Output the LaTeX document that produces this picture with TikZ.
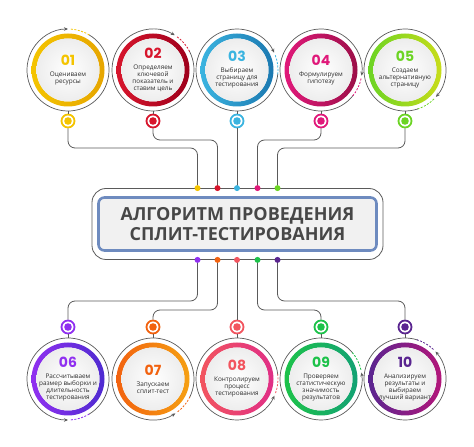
\documentclass[tikz,border=0pt]{standalone}
\usepackage{fontspec}
\setmainfont{Open Sans}
\newfontfamily\numfont{Poppins}
\usetikzlibrary{arrows.meta,positioning}

\definecolor{wirec}{HTML}{5A5A5A}
\definecolor{txtc}{HTML}{2E2E2E}
\definecolor{titlec}{HTML}{474747}
\definecolor{boxblue}{HTML}{6E8BBF}
\definecolor{boxfill}{HTML}{F1F1F1}
\definecolor{s1}{HTML}{F4C400}\definecolor{s1x}{HTML}{E6A500}
\definecolor{s2}{HTML}{D7152C}\definecolor{s2x}{HTML}{9E001C}
\definecolor{s3}{HTML}{3BB4E0}\definecolor{s3x}{HTML}{1B78B0}
\definecolor{s4}{HTML}{E0197A}\definecolor{s4x}{HTML}{9C0F48}
\definecolor{s5}{HTML}{6CD424}\definecolor{s5x}{HTML}{C8DC1A}
\definecolor{s6}{HTML}{9030F0}\definecolor{s6x}{HTML}{4E2BD0}
\definecolor{s7}{HTML}{F2620F}\definecolor{s7x}{HTML}{F5A013}
\definecolor{s8}{HTML}{F2555F}\definecolor{s8x}{HTML}{E02E86}
\definecolor{s9}{HTML}{1DC24A}\definecolor{s9x}{HTML}{13A274}
\definecolor{s10}{HTML}{5A2590}\definecolor{s10x}{HTML}{B3167A}

\begin{document}
\begin{tikzpicture}[x=1pt,y=1pt,
    wire/.style={draw=wirec, line width=0.8pt, rounded corners=7pt},
    outline/.style={draw=wirec, line width=0.7pt},
    halo/.style={circle, inner sep=0pt, minimum size=82pt},
    knob/.style={circle, fill=white, line width=1.8pt, inner sep=0pt, minimum size=13pt},
    stud/.style={circle, inner sep=0pt, minimum size=6pt},
    blurb/.style={align=center, text=txtc, font=\fontsize{6.4}{7}\selectfont},
    tip/.style={-{Stealth[length=4pt,width=3.5pt]}}]
  \useasboundingbox (0,0) rectangle (474,447);

  % title in the middle
  \node[draw=wirec, line width=0.8pt, rounded corners=14pt,
        minimum width=291pt, minimum height=71pt] (frame) at (237.5,223) {};
  \node[draw=boxblue, line width=2.6pt, fill=boxfill, rounded corners=6pt,
        minimum width=278pt, minimum height=53pt, align=center, text=titlec,
        font=\fontsize{18}{20}\selectfont\bfseries] (title) at (frame)
        {АЛГОРИТМ ПРОВЕДЕНИЯ\\СПЛИТ-ТЕСТИРОВАНИЯ};

  % upper row
  \foreach \i/\x/\a/\num/\txt in {
      1/68/90/01/{Оцениваем\\ресурсы},
      2/153/58/02/{Определяем\\ключевой\\показатель и\\ставим цель},
      3/237/25/03/{Выбираем\\страницу для\\тестирования},
      4/321/-8/04/{Формулируем\\гипотезу},
      5/405/-41/05/{Создаем\\альтернативную\\страницу}} {
    \node[halo] (c\i) at (\x,377) {};
    \shade[left color=s\i, right color=s\i x, even odd rule]
      (c\i) circle (36.5pt) (c\i) circle (31.5pt);
    \shade[inner color=white, outer color=gray!14] (c\i) circle (31.5pt);
    \draw[outline, tip] ([shift={({\a+330}:41pt)}]c\i.center)
      arc[start angle=\a+330, end angle=\a, radius=41pt];
    \draw[s\i, line width=0.8pt, dash pattern=on 2pt off 1.5pt]
      ([shift={({\a-4}:41pt)}]c\i.center) arc[start angle=\a-4, end angle=\a-32, radius=41pt];
    \node[blurb] at (c\i) {{\numfont\bfseries\fontsize{14}{14}\selectfont\textcolor{s\i}{\num}}\\[4pt]\txt};
    \node[knob, draw=s\i] (d\i) at (\x,326) {};
    \fill[s\i] (d\i) circle (3.8pt);
    \draw[outline] (c\i) -- (d\i);
  }

  % lower row
  \foreach \i/\x/\a/\num/\txt in {
      6/68/-90/06/{Рассчитываем\\размер выборки и\\длительность\\тестирования},
      7/153/-57/07/{Запускаем\\сплит-тест},
      8/237/-24/08/{Контролируем\\процесс\\тестирования},
      9/321/9/09/{Проверяем\\статистическую\\значимость\\результатов},
      10/405/42/10/{Анализируем\\результаты и\\выбираем\\лучший вариант}} {
    \node[halo] (c\i) at (\x,68) {};
    \shade[left color=s\i, right color=s\i x, even odd rule]
      (c\i) circle (36.5pt) (c\i) circle (31.5pt);
    \shade[inner color=white, outer color=gray!14] (c\i) circle (31.5pt);
    \draw[outline, tip] ([shift={({\a-330}:41pt)}]c\i.center)
      arc[start angle=\a-330, end angle=\a, radius=41pt];
    \draw[s\i, line width=0.8pt, dash pattern=on 2pt off 1.5pt]
      ([shift={({\a+4}:41pt)}]c\i.center) arc[start angle=\a+4, end angle=\a+32, radius=41pt];
    \node[blurb] at (c\i) {{\numfont\bfseries\fontsize{14}{14}\selectfont\textcolor{s\i}{\num}}\\[4pt]\txt};
    \node[knob, draw=s\i] (d\i) at (\x,120) {};
    \fill[s\i] (d\i) circle (3.8pt);
    \draw[outline] (d\i) -- (c\i);
  }

  % wires to the title
  \draw[wire] (d1) -- (d1 |- 0,299) -| ([xshift=-40pt]frame.north) coordinate (t1);
  \draw[wire] (d2) -- (d2 |- 0,307) -| ([xshift=-20pt]frame.north) coordinate (t2);
  \draw[wire] (d3) -- (d3 |- frame.north) coordinate (t3);
  \draw[wire] (d4) -- (d4 |- 0,307) -| ([xshift=20pt]frame.north) coordinate (t4);
  \draw[wire] (d5) -- (d5 |- 0,299) -| ([xshift=40pt]frame.north) coordinate (t5);
  \draw[wire] (d6) -- (d6 |- 0,146) -| ([xshift=-40pt]frame.south) coordinate (b1);
  \draw[wire] (d7) -- (d7 |- 0,137) -| ([xshift=-20pt]frame.south) coordinate (b2);
  \draw[wire] (d8) -- (d8 |- frame.south) coordinate (b3);
  \draw[wire] (d9) -- (d9 |- 0,137) -| ([xshift=20pt]frame.south) coordinate (b4);
  \draw[wire] (d10) -- (d10 |- 0,146) -| ([xshift=40pt]frame.south) coordinate (b5);

  % studs on the frame
  \foreach \i/\j in {1/1,2/2,3/3,4/4,5/5} \node[stud, fill=s\j] at (t\i) {};
  \foreach \i/\j in {1/6,2/7,3/8,4/9,5/10} \node[stud, fill=s\j] at (b\i) {};
\end{tikzpicture}
\end{document}
